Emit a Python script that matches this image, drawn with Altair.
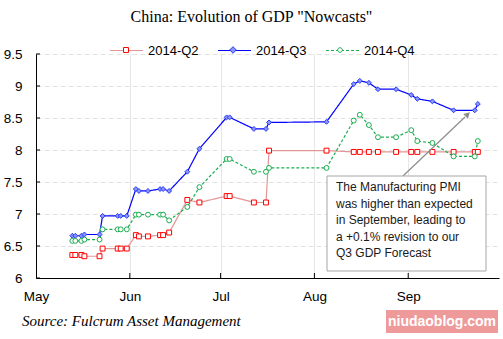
import altair as alt
import pandas as pd

series = ["2014-Q2", "2014-Q3", "2014-Q4"]

dates = ["2014-05-13", "2014-05-14", "2014-05-16", "2014-05-17", "2014-05-22", "2014-05-23",
         "2014-05-28", "2014-05-29", "2014-05-31", "2014-06-03", "2014-06-04", "2014-06-07",
         "2014-06-11", "2014-06-12", "2014-06-14", "2014-06-20", "2014-06-24", "2014-07-03",
         "2014-07-04", "2014-07-12", "2014-07-16", "2014-07-17", "2014-08-05", "2014-08-14",
         "2014-08-16", "2014-08-19", "2014-08-22", "2014-08-28", "2014-09-02", "2014-09-04",
         "2014-09-09", "2014-09-16", "2014-09-23", "2014-09-24"]

q2 = [6.36, 6.36, 6.36, 6.34, 6.34, 6.46, 6.46, 6.46, 6.46, 6.67, 6.65, 6.65, 6.67, 6.67,
      6.71, 7.22, 7.18, 7.28, 7.28, 7.18, 7.18, 7.99, 7.99, 7.97, 7.97, 7.97, 7.97, 7.97,
      7.97, 7.97, 7.97, 7.97, 7.97, 7.97]
q3 = [6.66, 6.66, 6.66, 6.68, 6.68, 6.97, 6.97, 6.97, 6.97, 7.39, 7.36, 7.36, 7.39, 7.39,
      7.36, 7.66, 8.02, 8.51, 8.51, 8.33, 8.33, 8.43, 8.44, 9.03, 9.08, 9.05, 8.95, 8.95,
      8.86, 8.80, 8.76, 8.62, 8.62, 8.72]
q4 = [6.58, 6.58, 6.58, 6.60, 6.60, 6.76, 6.76, 6.76, 6.76, 6.99, 6.99, 6.99, 6.99, 6.99,
      6.90, 7.11, 7.42, 7.86, 7.86, 7.66, 7.66, 7.72, 7.72, 8.46, 8.55, 8.39, 8.20, 8.20,
      8.31, 8.14, 8.11, 7.90, 7.90, 8.14]

y_ticks = [6, 6.5, 7, 7.5, 8, 8.5, 9, 9.5]
month_ticks = ["2014-05-01", "2014-06-01", "2014-07-01", "2014-08-01", "2014-09-01"]

annotation = ["The Manufacturing  PMI", "was higher than expected",
              "in September, leading to", "a +0.1% revision to our", "Q3 GDP Forecast"]
title_text = 'China: Evolution of GDP "Nowcasts"'
source_text = "Source: Fulcrum Asset Management"
watermark = "niudaoblog.com"

line_colors = ["#E39494", "#0000FF", "#1AAE50"]
marker_stroke = ["#FF0000", "#2B3BF5", "#1AAE50"]
marker_fill = ["#FFFFFF", "#8A96FF", "#FFFFFF"]
dashes = [[1, 0], [1, 0], [3, 2]]
shapes = ["square", "diamond", "circle"]
legend_paths = [
    "M-0.15,-0.15H0.15V0.15H-0.15Z",
    "M0,-0.2L0.2,0L0,0.2L-0.2,0Z",
    "M-0.14,0A0.14,0.14,0,1,0,0.14,0A0.14,0.14,0,1,0,-0.14,0Z",
]

rows = []
for s, vals in zip(series, [q2, q3, q4]):
    for d, v in zip(dates, vals):
        rows.append({"date": d, "value": v, "series": s})
df = pd.DataFrame(rows)

legend_df = pd.DataFrame({"series": series, "date": ["2014-06-01"] * 3, "value": [0, 0, 0]})
one = pd.DataFrame({"a": [0]})

def dt(s):
    y, m, d = [int(p) for p in s.split("-")]
    return alt.DateTime(year=y, month=m, date=d, utc=True)

xscale = alt.Scale(type="utc", domain=[dt("2014-05-01"), dt("2014-10-01")])
yscale = alt.Scale(domain=[6, 9.5], nice=False, zero=False)

LFONT = "Liberation Sans"

x_axis = alt.Axis(values=[dt(m) for m in month_ticks], format="%b", grid=True,
                  gridColor="#E6E6E6", gridWidth=1, ticks=False,
                  domainColor="black", domainWidth=1, labelFont=LFONT,
                  labelFontSize=13.5, labelColor="black", labelPadding=11,
                  labelFlush=False, labelOverlap=False)
y_axis = alt.Axis(values=y_ticks, format=".1~f", grid=True, gridColor="#E3E3E3",
                  gridDash=[5, 3], ticks=False, domainColor="black", domainWidth=1,
                  labelFont=LFONT, labelFontSize=13.5, labelColor="black",
                  labelPadding=14, labelOverlap=False)

x_enc = alt.X("date:T", scale=xscale, title=None, axis=x_axis)
y_enc = alt.Y("value:Q", scale=yscale, title=None, axis=y_axis)

base_legend = dict(orient="none", legendX=73, legendY=-21, direction="horizontal", title=None,
                   labelFont=LFONT, labelFontSize=13, labelColor="black", labelOffset=4,
                   columnPadding=16, symbolSize=1089, padding=0, columns=3, gridAlign="none")

lines = alt.Chart(df).mark_line(strokeWidth=1.2).encode(
    x=x_enc, y=y_enc,
    color=alt.Color("series:N", scale=alt.Scale(domain=series, range=line_colors),
                    legend=alt.Legend(symbolType="stroke", symbolStrokeWidth=1.2, **base_legend)),
    strokeDash=alt.StrokeDash("series:N", scale=alt.Scale(domain=series, range=dashes),
                              legend=alt.Legend(symbolType="stroke", symbolStrokeWidth=1.2, **base_legend)),
)

points = alt.Chart(df).mark_point(filled=True, opacity=1, strokeWidth=1, size=24).encode(
    x=x_enc, y=y_enc,
    shape=alt.Shape("series:N", scale=alt.Scale(domain=series, range=shapes), legend=None),
    stroke=alt.Stroke("series:N", scale=alt.Scale(domain=series, range=marker_stroke), legend=None),
    fill=alt.Fill("series:N", scale=alt.Scale(domain=series, range=marker_fill), legend=None),
)

# marker-only legend overlaid on the line legend (empty labels, same pitch)
leg_kw = dict(base_legend, labelExpr="''", labelOffset=0, columnPadding=73, symbolStrokeWidth=1)
legend_pts = alt.Chart(legend_df).mark_point(filled=True, opacity=1, strokeWidth=1, clip=True, size=1089).encode(
    x=x_enc, y=y_enc,
    shape=alt.Shape("series:N", scale=alt.Scale(range=legend_paths), legend=alt.Legend(**leg_kw)),
    stroke=alt.Stroke("series:N", scale=alt.Scale(range=marker_stroke), legend=alt.Legend(**leg_kw)),
    fill=alt.Fill("series:N", scale=alt.Scale(range=marker_fill), legend=alt.Legend(**leg_kw)),
)

ytick_layer = alt.Chart(pd.DataFrame({"value": y_ticks})).mark_rule(color="black", strokeWidth=1).encode(
    y=y_enc, x=alt.value(0), x2=alt.value(4))
xtick_layer = alt.Chart(pd.DataFrame({"date": month_ticks[1:]})).mark_rule(color="black", strokeWidth=1).encode(
    x=x_enc, y=alt.value(224), y2=alt.value(219))

box = alt.Chart(one).mark_rect(fill="white", stroke="#A6A6A6", strokeWidth=1).encode(
    x=alt.value(291), x2=alt.value(450), y=alt.value(122), y2=alt.value(217))
box_text = alt.Chart(one).mark_text(align="left", baseline="top", font=LFONT, fontSize=12,
                                    lineHeight=16.5, color="#1A1A1A").encode(
    x=alt.value(300), y=alt.value(128), text=alt.value(annotation))
arrow = alt.Chart(one).mark_rule(color="#8C8C8C", strokeWidth=1.2).encode(
    x=alt.value(367), y=alt.value(122), x2=alt.value(429), y2=alt.value(63))
arrow_head = alt.Chart(one).mark_point(shape="triangle", filled=True, color="#8C8C8C", opacity=1,
                                       size=45, angle=46).encode(x=alt.value(431), y=alt.value(61))
source = alt.Chart(one).mark_text(align="left", baseline="middle", font="Liberation Serif",
                                  fontStyle="italic", fontSize=15, color="black").encode(
    x=alt.value(-14), y=alt.value(267), text=alt.value(source_text))
wm_rect = alt.Chart(one).mark_rect(fill="#EF9A9A").encode(
    x=alt.value(350), x2=alt.value(462), y=alt.value(256), y2=alt.value(279))
wm_text = alt.Chart(one).mark_text(align="center", baseline="middle", font=LFONT, fontWeight="bold",
                                   fontSize=14, color="white").encode(
    x=alt.value(406), y=alt.value(267.5), text=alt.value(watermark))

chart = alt.layer(
    lines, points, legend_pts, ytick_layer, xtick_layer,
    arrow, box, box_text, arrow_head, source, wm_rect, wm_text,
).resolve_scale(
    shape="independent", stroke="independent", fill="independent"
).properties(
    width=463, height=224,
    padding={"left": 36, "top": 54, "right": 4, "bottom": 61},
    autosize=alt.AutoSizeParams(type="none"),
    title=alt.Title(title_text, font="Liberation Serif", fontSize=16, fontWeight="normal",
                    color="black", anchor="middle", dx=-16, offset=8),
).configure_view(stroke=None)

chart.save("out.html", embed_options={"renderer": "svg", "actions": False})
